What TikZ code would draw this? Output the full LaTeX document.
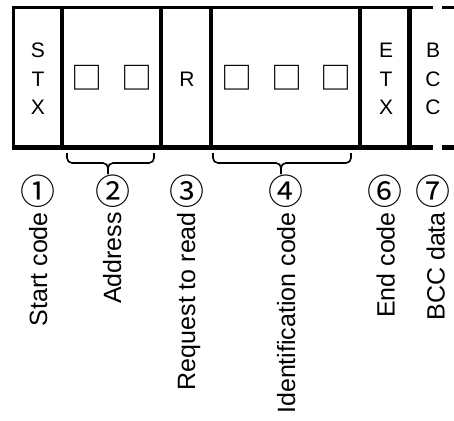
\documentclass[tikz,border=0pt]{standalone}
\usepackage{fontspec}
\setmainfont{Liberation Sans}
\newfontfamily\cjkfont{Noto Sans CJK JP}
\begin{document}
\begin{tikzpicture}[x=1pt,y=-1pt,
  cell/.style={inner sep=0pt, font=\fontsize{21}{28.5}\selectfont, align=center},
  sq/.style={inner sep=0pt, font=\cjkfont\fontsize{31}{31}\selectfont},
  num/.style={inner sep=0pt, font=\cjkfont\fontsize{35}{35}\selectfont},
  lbl/.style={inner sep=0pt, rotate=90, anchor=base east, font=\fontsize{25}{25}\selectfont},
  border/.style={line width=3pt},
  divider/.style={line width=4.5pt},
  bottomline/.style={line width=5pt},
  brace/.style={line width=1.6pt, rounded corners=5pt}]
\useasboundingbox (0,0) rectangle (454,420);
% frame
\draw[border] (12,7.5) -- (433,7.5);
\draw[border] (442,7.5) -- (456,7.5);
\draw[bottomline] (12,147.5) -- (433,147.5);
\draw[bottomline] (442,147.5) -- (456,147.5);
\draw[line width=3.5pt] (13.5,6) -- (13.5,150);
\draw[divider] (62,6) -- (62,150);
\draw[divider] (161,6) -- (161,150);
\draw[divider] (211,6) -- (211,150);
\draw[divider] (360,6) -- (360,150);
\draw[divider] (409.5,6) -- (409.5,150);
% cell texts
\node[cell] (stx) at (38,79) {S\\T\\X};
\node[sq] (a1) at (87,78) {□};
\node[sq] (a2) at (137,78) {□};
\node[cell] (r) at (187,79) {R};
\node[sq] (i1) at (237,78) {□};
\node[sq] (i2) at (287,78) {□};
\node[sq] (i3) at (336,78) {□};
\node[cell] (etx) at (386,79) {E\\T\\X};
\node[cell] (bcc) at (433,79) {B\\C\\C};
% braces
\coordinate (b1l) at (67,153);
\coordinate (b1r) at (154,153);
\coordinate (b1t) at (108,174);
\draw[brace] (b1l) |- (b1t |- 0,163) -- (b1t);
\draw[brace] (b1t) -- (b1t |- 0,163) -| (b1r);
\coordinate (b2l) at (213,153);
\coordinate (b2r) at (351,153);
\coordinate (b2t) at (281,174);
\draw[brace] (b2l) |- (b2t |- 0,163) -- (b2t);
\draw[brace] (b2t) -- (b2t |- 0,163) -| (b2r);
% numbers
\node[num] (n1) at (38,191) {①};
\node[num] (n2) at (113,191) {②};
\node[num] (n3) at (187,191) {③};
\node[num] (n4) at (286,191) {④};
\node[num] (n6) at (385,191) {⑥};
\node[num] (n7) at (433,191) {⑦};
% labels
\node[lbl] (l1) at (47,212) {Start code};
\node[lbl] (l2) at (121,212) {Address};
\node[lbl] (l3) at (195,212) {Request to read};
\node[lbl] (l4) at (295,212) {Identification code};
\node[lbl] (l6) at (394.5,212) {End code};
\node[lbl] (l7) at (444.5,212) {BCC data};
\end{tikzpicture}
\end{document}
